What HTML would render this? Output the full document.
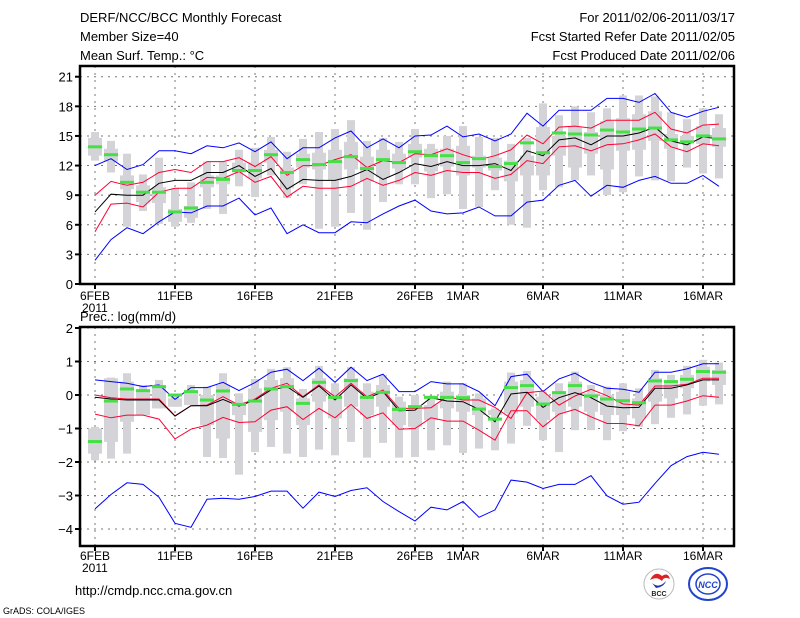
<!DOCTYPE html>
<html><head><meta charset="utf-8"><style>
html,body{margin:0;padding:0;background:#fff;}
svg{display:block;font-family:"Liberation Sans",sans-serif;}
</style></head><body>
<svg id="chart" width="800" height="618" viewBox="0 0 800 618">
<g font-size="13" fill="#000">
<text x="80" y="22">DERF/NCC/BCC Monthly Forecast</text>
<text x="80" y="41">Member Size=40</text>
<text x="80" y="60">Mean Surf. Temp.: °C</text>
<text x="735" y="22" text-anchor="end">For 2011/02/06-2011/03/17</text>
<text x="735" y="41" text-anchor="end">Fcst Started Refer Date 2011/02/05</text>
<text x="735" y="60" text-anchor="end">Fcst Produced Date 2011/02/06</text>
<text x="80" y="321">Prec.: log(mm/d)</text>
<text x="75" y="595">http://cmdp.ncc.cma.gov.cn</text>
<text x="3" y="614" font-size="9">GrADS: COLA/IGES</text>
</g>
<g>
<circle cx="659" cy="584" r="15" fill="#fff" stroke="#bbb"/>
<path d="M650 580 q5 -10 12 -4 q6 -4 8 3 q-6 -3 -8 2 q-5 -5 -12 -1z" fill="#d22"/>
<path d="M652 583 q7 6 14 -2 q-2 6 -10 7z" fill="#23a"/>
<text x="659" y="596" font-size="7" text-anchor="middle" font-weight="bold" fill="#222">BCC</text>
<ellipse cx="708" cy="584" rx="19" ry="16" fill="#fff" stroke="#24c" stroke-width="2"/>
<ellipse cx="708" cy="584" rx="12" ry="10" fill="none" stroke="#24c" stroke-width="1.5"/>
<text x="708" y="588" font-size="9" text-anchor="middle" font-style="italic" font-weight="bold" fill="#24c">NCC</text>
</g>
<g id="topPanel"></g>
<g id="botPanel"></g>
</svg>
<script>
const days = 40;
const xTickDays = [0,5,10,15,20,23,28,33,38];
const xTickLabels = ["6FEB","11FEB","16FEB","21FEB","26FEB","1MAR","6MAR","11MAR","16MAR"];
const tTicks = [0,3,6,9,12,15,18,21];
const pTicks = [-4,-3,-2,-1,0,1,2];
// temperature
const tBlueHi = [12.0,12.7,11.6,12.1,13.5,13.5,13.2,14.0,13.8,14.3,13.4,14.4,12.7,13.8,13.8,14.8,15.5,13.8,14.7,13.8,15.0,15.1,16.0,14.9,15.2,14.5,15.2,17.3,16.0,17.6,17.6,17.6,18.8,18.8,18.4,19.3,17.4,16.9,17.5,17.9];
const tRedHi = [9.0,10.4,10.0,10.3,11.3,11.6,11.3,12.4,12.4,12.8,11.9,12.9,11.0,12.0,12.0,12.6,13.1,11.8,12.5,12.3,13.2,13.1,13.7,13.1,12.6,13.0,13.6,15.1,14.2,15.9,16.0,15.8,16.6,16.6,16.6,17.4,15.7,15.3,16.1,16.2];
const tMean = [7.3,9.1,9.0,9.0,10.2,10.5,10.5,11.3,11.3,12.0,10.9,11.7,9.6,10.6,10.5,10.5,10.9,11.6,10.6,11.3,12.2,11.9,12.4,12.0,12.0,12.2,11.5,13.5,13.0,14.6,14.8,14.1,15.0,15.0,15.3,15.9,14.5,14.1,14.9,14.7];
const tRedLo = [5.3,8.1,8.2,7.8,9.3,9.7,9.7,10.8,10.7,11.4,10.3,10.9,8.8,9.9,9.7,9.7,9.9,10.7,10.0,10.5,11.3,11.0,11.5,11.3,11.3,10.7,11.1,12.5,12.2,13.9,14.0,13.5,14.1,14.2,14.6,15.2,13.9,13.4,14.2,14.0];
const tBlueLo = [2.4,4.5,5.7,5.1,6.3,7.3,7.2,7.9,7.9,8.7,7.0,7.7,5.1,6.0,5.2,5.2,6.3,6.2,7.1,7.9,8.5,7.4,7.1,7.2,7.8,6.9,6.9,8.3,8.5,10.0,10.5,8.9,10.0,9.8,10.5,10.9,10.2,10.2,11.0,9.9];
const tObs = [13.9,13.1,10.3,9.3,9.3,7.3,7.7,10.3,10.6,11.5,11.5,13.1,11.3,12.6,12.1,12.4,12.9,11.7,12.6,12.3,13.4,13.0,13.0,12.3,12.7,11.9,12.2,14.3,13.3,15.3,15.2,15.1,15.6,15.4,15.7,15.8,14.6,14.4,15.0,14.7];
const tMax = [15.4,14.5,13.2,11.1,12.8,9.7,10.3,12.4,12.4,13.6,13.8,14.9,13.4,14.7,15.4,15.7,16.6,14.5,14.8,14.4,15.7,14.2,15.0,16.0,14.9,14.8,14.2,14.8,18.3,17.1,18.0,17.4,17.8,19.1,19.1,19.0,17.4,16.7,17.8,17.2];
const tQ3 = [14.8,13.7,11.0,10.0,9.8,7.6,7.9,11.0,11.0,12.3,12.3,13.6,11.8,13.2,13.3,13.6,14.4,12.9,13.6,13.2,14.2,13.7,13.7,14.0,13.0,12.8,12.5,13.0,15.9,15.0,15.9,15.4,16.5,16.8,17.2,17.5,15.2,15.0,16.0,15.8];
const tQ1 = [13.0,12.4,9.6,8.3,8.2,6.3,6.7,9.8,10.1,11.3,10.7,12.3,9.7,11.8,11.6,10.5,11.6,10.4,10.8,11.7,12.8,11.4,11.9,11.0,11.8,11.5,10.4,11.0,11.0,13.0,11.8,13.2,11.6,13.5,13.6,14.5,13.7,14.5,14.2,13.9];
const tMin = [12.5,11.3,5.8,7.4,6.1,5.8,6.2,7.6,7.1,9.9,8.8,11.0,8.7,10.1,5.6,5.8,7.2,5.5,8.3,10.1,10.1,8.7,9.1,7.6,7.8,9.5,6.0,5.7,9.5,9.8,10.5,11.0,9.0,9.3,10.9,10.5,10.4,11.8,11.2,10.7];
// precipitation
const pBlueHi = [0.45,0.4,0.35,0.25,0.3,-0.13,0.22,0.22,0.38,0.13,0.37,0.68,0.77,0.43,0.8,0.38,0.83,0.43,0.62,0.1,0.1,0.4,0.33,0.33,0.1,-0.32,0.55,0.62,0.1,0.48,0.65,0.38,0.2,0.17,0.08,0.68,0.68,0.78,0.93,0.93];
const pRedHi = [0,-0.08,-0.12,-0.12,-0.12,-0.62,-0.32,-0.3,-0.05,-0.3,-0.12,0.2,0.35,-0.05,0.3,-0.05,0.35,-0.05,0.15,-0.4,-0.4,-0.38,-0.05,-0.15,-0.15,-0.37,-0.7,0.07,0.12,-0.3,-0.03,0.17,-0.02,-0.27,-0.3,0.27,0.27,0.32,0.5,0.5];
const pMean = [-0.07,-0.12,-0.15,-0.15,-0.15,-0.63,-0.32,-0.32,-0.13,-0.33,-0.15,0.15,0.25,-0.07,0.27,-0.15,0.3,-0.1,0.1,-0.47,-0.45,-0.08,-0.18,-0.2,-0.43,-0.8,0.03,0.08,-0.37,-0.08,0.07,-0.08,-0.33,-0.38,-0.37,0.2,0.2,0.3,0.45,0.45];
const pRedLo = [-0.57,-0.68,-0.6,-0.6,-0.72,-1.31,-1.02,-0.9,-0.67,-0.82,-0.8,-0.45,-0.35,-0.73,-0.4,-0.68,-0.28,-0.7,-0.53,-1.02,-1.0,-0.68,-0.78,-0.78,-1.05,-1.35,-0.47,-0.47,-0.95,-0.57,-0.43,-0.65,-0.85,-0.85,-0.92,-0.3,-0.3,-0.18,-0.02,-0.07];
const pBlueLo = [-3.4,-2.97,-2.62,-2.67,-3.05,-3.83,-3.95,-3.11,-3.08,-3.11,-3.03,-2.87,-2.87,-3.38,-2.9,-3.03,-2.85,-2.77,-3.18,-3.48,-3.76,-3.35,-3.43,-3.18,-3.65,-3.43,-2.54,-2.6,-2.79,-2.67,-2.67,-2.41,-3.01,-3.26,-3.2,-2.64,-2.11,-1.84,-1.71,-1.77];
const pObs = [-1.39,-0.18,0.18,0.13,0.25,0,0.1,-0.15,0.12,-0.28,-0.18,0.18,0.25,-0.25,0.38,-0.07,0.43,-0.07,0.08,-0.43,-0.35,-0.07,-0.07,-0.08,-0.42,-0.72,0.22,0.28,-0.27,0.07,0.28,-0.03,-0.12,-0.17,-0.23,0.42,0.4,0.47,0.7,0.68];
const pMax = [-0.95,0.52,0.65,0.3,0.45,0,0.3,0.25,0.65,0.05,0.48,0.78,0.83,0.18,0.87,0.35,0.83,0.35,0.6,-0.05,0,-0.02,0.4,0.35,0.05,-0.4,0.67,0.72,0.1,0.35,0.7,0.3,0.25,0.35,0.2,0.75,0.6,0.87,1.05,0.97];
const pQ3 = [-1.0,0.5,0.4,0.1,0.25,-0.1,0.1,0,0.3,-0.2,0.2,0.45,0.5,-0.1,0.5,0.05,0.5,0.1,0.3,-0.2,-0.3,-0.3,0.1,0,-0.1,-0.45,0.4,0.45,-0.05,0.05,0.4,0.05,0,0.1,-0.1,0.5,0.4,0.6,0.85,0.75];
const pQ1 = [-1.75,-1.4,-0.8,-0.6,-0.4,-0.35,-0.3,-0.9,-1.3,-0.6,-1.1,-0.75,-0.5,-0.9,-0.2,-0.7,-0.35,-0.6,-0.35,-0.9,-0.95,-0.75,-0.4,-0.5,-0.6,-0.6,-0.55,-0.35,-0.75,-0.5,-0.35,-0.5,-0.6,-0.6,-0.7,-0.2,-0.1,0.2,0.4,0.3];
const pMin = [-1.95,-1.9,-1.75,-0.6,-0.4,-0.35,-0.3,-1.85,-1.88,-2.38,-1.7,-1.55,-1.75,-1.85,-1.63,-1.8,-1.4,-1.87,-1.43,-1.87,-1.85,-1.65,-1.5,-1.73,-1.6,-1.65,-1.45,-0.92,-1.35,-1.7,-1.05,-1.05,-1.35,-1.08,-0.95,-0.87,-0.68,-0.58,-0.32,-0.28];

const NS = "http://www.w3.org/2000/svg";
function mk(tag, attrs, parent){
  const e = document.createElementNS(NS, tag);
  for (const k in attrs) e.setAttribute(k, attrs[k]);
  parent.appendChild(e); return e;
}
const xL = 80, xR = 734;
function xOf(d){ return 95 + 16*d; }

function panel(g, cfg){
  const yTop = cfg.top, yBot = cfg.bottom, y = cfg.y;
  cfg.ticks.forEach(t=>{
    const gl = mk("line",{x1:xL,x2:xR,y1:y(t),y2:y(t),stroke:"#777","stroke-dasharray":"2,5","stroke-width":1},g);
    
    
    const tl = mk("text",{x:73,y:y(t)+5,"text-anchor":"end","font-size":13},g);
    tl.textContent = cfg.fmt(t);
    
    
    mk("line",{x1:xL-5,x2:xL,y1:y(t),y2:y(t),stroke:"#000","stroke-width":2},g);
  });
  xTickDays.forEach((d,i)=>{
    const gl = mk("line",{x1:xOf(d),x2:xOf(d),y1:yTop,y2:yBot,stroke:"#777","stroke-dasharray":"2,5","stroke-width":1},g);
    
    
    mk("line",{x1:xOf(d),x2:xOf(d),y1:yBot,y2:yBot+5,stroke:"#000","stroke-width":2},g);
    const tl = mk("text",{x:xOf(d),y:cfg.labelY,"text-anchor":"middle","font-size":12},g);
    tl.textContent = xTickLabels[i];
    
    
  });
  const yr = mk("text",{x:82,y:cfg.labelY+12,"font-size":12},g);
  yr.textContent = "2011";
  
  
  const bars = cfg.bars;
  for (let d=0; d<days; d++){
    const x = xOf(d);
    const w = mk("rect",{x:x-4,width:8,y:y(bars[0][d]),height:Math.max(1,y(bars[3][d])-y(bars[0][d])),fill:"#d4d4d8"},g);
    
    
    const b = mk("rect",{x:x-7,width:14,y:y(bars[1][d]),height:Math.max(1,y(bars[2][d])-y(bars[1][d])),fill:"#d4d4d8"},g);
    
    
  }
  cfg.series.forEach(s=>{
    const pts = s.v.map((v,d)=>xOf(d)+","+y(v).toFixed(1)).join(" ");
    const pl = mk("polyline",{points:pts,fill:"none",stroke:s.c,"stroke-width":1},g);
    
    
  });
  cfg.obs.forEach((v,d)=>{
    const r = mk("rect",{x:xOf(d)-7,width:14,y:y(v)-1.5,height:3,fill:"#44e044"},g);
    
    
  });
  const fr = mk("rect",{x:xL,y:yTop,width:xR-xL,height:yBot-yTop,fill:"none",stroke:"#000","stroke-width":2.5},g);
  
  
}

const topPanel = document.getElementById('topPanel');


panel(topPanel,{top:66,bottom:284,y:v=>284-9.87*v,ticks:tTicks,fmt:t=>String(t),labelY:300,
  bars:[tMax,tQ3,tQ1,tMin],obs:tObs,
  series:[{v:tBlueHi,c:"#0000ff",n:"temp-upper-blue"},{v:tRedHi,c:"#ff0033",n:"temp-upper-red"},{v:tMean,c:"#000",n:"temp-ensemble-mean"},{v:tRedLo,c:"#ff0033",n:"temp-lower-red"},{v:tBlueLo,c:"#0000ff",n:"temp-lower-blue"}]});

const botPanel = document.getElementById('botPanel');


panel(botPanel,{top:327,bottom:546,y:v=>395-33.5*v,ticks:pTicks,fmt:t=>t<0?"\u2212"+(-t):String(t),labelY:560,
  bars:[pMax,pQ3,pQ1,pMin],obs:pObs,
  series:[{v:pBlueHi,c:"#0000ff",n:"precip-upper-blue"},{v:pRedHi,c:"#ff0033",n:"precip-upper-red"},{v:pMean,c:"#000",n:"precip-ensemble-mean"},{v:pRedLo,c:"#ff0033",n:"precip-lower-red"},{v:pBlueLo,c:"#0000ff",n:"precip-lower-blue"}]});
</script>
</body></html>
